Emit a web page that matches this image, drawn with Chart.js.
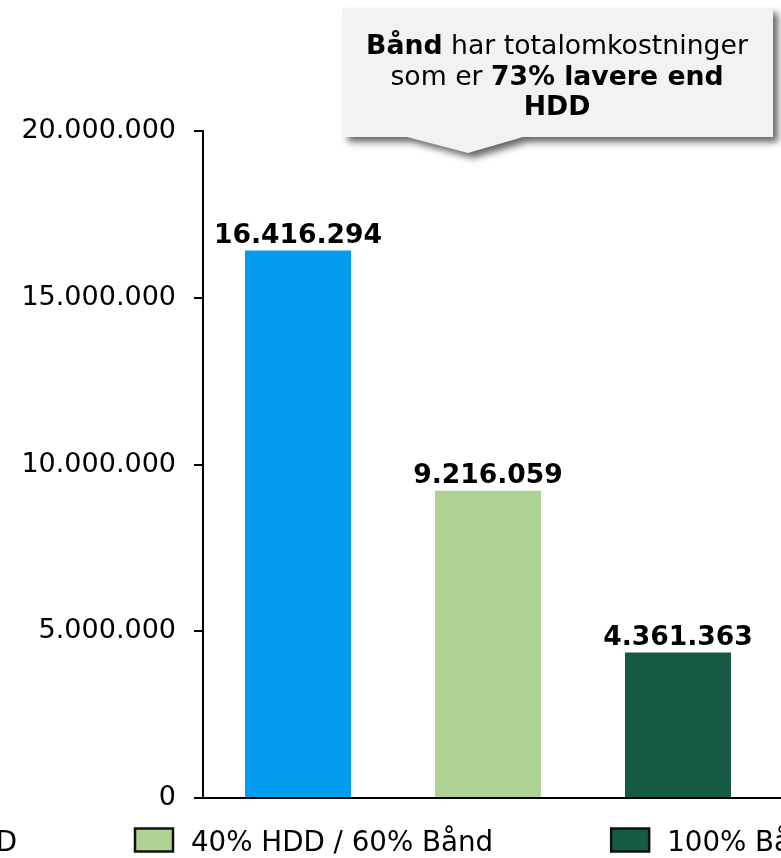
<!DOCTYPE html>
<html lang="da">
<head>
<meta charset="utf-8">
<title>Totalomkostninger</title>
<script src="https://cdn.jsdelivr.net/npm/chart.js@4.4.0/dist/chart.umd.min.js"></script>
<style>
    html, body { margin: 0; padding: 0; background: #fff; overflow: hidden; }
    #chart-wrap { position: relative; width: 781px; height: 858px; }
</style>
</head>
<body>
<div id="chart-wrap"><canvas id="costChart"></canvas></div>
<script>
const categories = ['100% HDD', '40% HDD / 60% Bånd', '100% Bånd'];
const totalCosts = [16416294, 9216059, 4361363];
const barColors = ['#049CEE', '#AED395', '#145B41'];
const yTicks = [0, 5000000, 10000000, 15000000, 20000000];
const calloutLines = [
    [{ text: 'Bånd', bold: true }, { text: ' har totalomkostninger', bold: false }],
    [{ text: 'som er ', bold: false }, { text: '73% lavere end', bold: true }],
    [{ text: 'HDD', bold: true }]
];

const fontFamily = '"DejaVu Sans", Verdana, sans-serif';
const formatNumber = value => String(Math.round(value)).replace(/\B(?=(\d{3})+(?!\d))/g, '.');

document.addEventListener('DOMContentLoaded', () => {
    // bold numbers above each bar
    const valueLabels = {
        id: 'valueLabels',
        afterDatasetsDraw(chart) {
            const ctx = chart.ctx;
            const values = chart.data.datasets[0].data;
            ctx.save();
            ctx.font = `bold 26.6px ${fontFamily}`;
            ctx.fillStyle = '#000';
            ctx.textAlign = 'center';
            ctx.textBaseline = 'alphabetic';
            chart.getDatasetMeta(0).data.forEach((bar, i) => {
                ctx.fillText(formatNumber(values[i]), bar.x, bar.y - 8);
            });
            ctx.restore();
        }
    };

    // x axis line runs on to the right edge
    const axisExtension = {
        id: 'axisExtension',
        afterDraw(chart) {
            const ctx = chart.ctx;
            const y = chart.scales.x.top;
            ctx.save();
            ctx.strokeStyle = '#000';
            ctx.lineWidth = 2;
            ctx.beginPath();
            ctx.moveTo(chart.chartArea.right - 1, y);
            ctx.lineTo(chart.width, y);
            ctx.stroke();
            ctx.restore();
        }
    };

    // legend row under the chart, wider than the canvas
    const bottomLegend = {
        id: 'bottomLegend',
        afterDraw(chart) {
            const ctx = chart.ctx;
            const boxW = 38, boxH = 23, textGap = 18, itemGap = 118;
            const boxMid = 840, baseline = 851;
            ctx.save();
            ctx.font = `27.7px ${fontFamily}`;
            ctx.textBaseline = 'alphabetic';
            ctx.textAlign = 'left';
            const labels = chart.data.labels;
            let x = 17 - ctx.measureText(labels[0]).width - textGap - boxW;
            labels.forEach((label, i) => {
                ctx.fillStyle = barColors[i];
                ctx.fillRect(x, boxMid - boxH / 2, boxW, boxH);
                ctx.lineWidth = 2.5;
                ctx.strokeStyle = '#111';
                ctx.strokeRect(x, boxMid - boxH / 2, boxW, boxH);
                ctx.fillStyle = '#000';
                ctx.fillText(label, x + boxW + textGap, baseline);
                x += boxW + textGap + ctx.measureText(label).width + itemGap;
            });
            ctx.restore();
        }
    };

    // grey speech box at the top
    const callout = {
        id: 'callout',
        afterDraw(chart) {
            const ctx = chart.ctx;
            const left = 343, top = 8, right = 773, bottom = 137;
            ctx.save();
            ctx.beginPath();
            ctx.moveTo(left, top);
            ctx.lineTo(right, top);
            ctx.lineTo(right, bottom);
            ctx.lineTo(523, bottom);
            ctx.lineTo(468, 153);
            ctx.lineTo(407, bottom);
            ctx.lineTo(left, bottom);
            ctx.closePath();
            ctx.shadowColor = 'rgba(0, 0, 0, 0.6)';
            ctx.shadowBlur = 7;
            ctx.shadowOffsetX = 5;
            ctx.shadowOffsetY = 5;
            ctx.fillStyle = '#f2f2f2';
            ctx.fill();
            ctx.restore();

            ctx.save();
            ctx.fillStyle = '#000';
            ctx.textBaseline = 'alphabetic';
            ctx.textAlign = 'left';
            const centerX = 557;
            calloutLines.forEach((segments, i) => {
                const fontFor = s => `${s.bold ? 'bold ' : ''}26.7px ${fontFamily}`;
                let total = 0;
                segments.forEach(s => {
                    ctx.font = fontFor(s);
                    total += ctx.measureText(s.text).width;
                });
                let x = centerX - total / 2;
                const y = 54 + i * 30.5;
                segments.forEach(s => {
                    ctx.font = fontFor(s);
                    ctx.fillText(s.text, x, y);
                    x += ctx.measureText(s.text).width;
                });
            });
            ctx.restore();
        }
    };

    const ctx = document.getElementById('costChart');
    new Chart(ctx, {
        type: 'bar',
        data: {
            labels: categories,
            datasets: [{
                label: 'Totalomkostninger',
                data: totalCosts,
                backgroundColor: barColors,
                borderWidth: 0,
                barPercentage: 0.558,
                categoryPercentage: 1
            }]
        },
        options: {
            responsive: true,
            maintainAspectRatio: false,
            animation: false,
            layout: {
                padding: { top: 131, right: 8, bottom: 52, left: 0 }
            },
            scales: {
                x: {
                    grid: { display: false },
                    border: { color: '#000', width: 2 },
                    ticks: { display: false }
                },
                y: {
                    min: yTicks[0],
                    max: yTicks[yTicks.length - 1],
                    afterBuildTicks: scale => {
                        scale.ticks = yTicks.map(v => ({ value: v }));
                    },
                    afterFit: scale => {
                        scale.width = 203;
                    },
                    grid: {
                        drawOnChartArea: false,
                        color: '#000',
                        lineWidth: 2,
                        tickLength: 9
                    },
                    border: { color: '#000', width: 2 },
                    ticks: {
                        padding: 18,
                        color: '#000',
                        font: { family: fontFamily, size: 27 },
                        callback: value => formatNumber(value)
                    }
                }
            },
            plugins: {
                legend: { display: false },
                tooltip: { enabled: false }
            }
        },
        plugins: [valueLabels, axisExtension, bottomLegend, callout]
    });
});
</script>
</body>
</html>
